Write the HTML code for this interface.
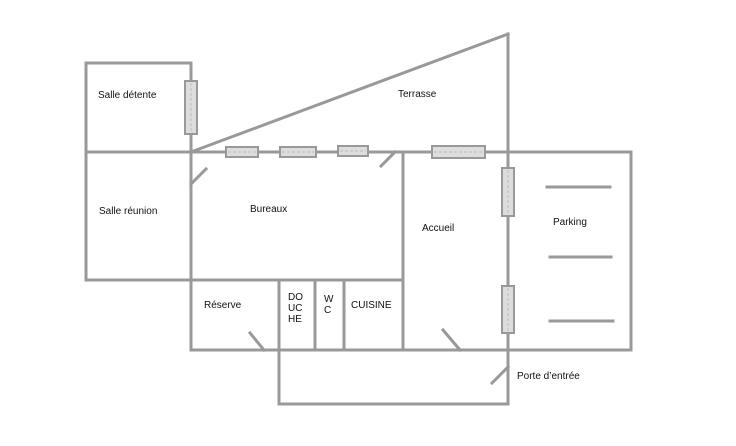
<!DOCTYPE html>
<html><head><meta charset="utf-8"><style>
html,body{margin:0;padding:0;background:#fff;}
svg{display:block;}
text{font-family:"Liberation Sans",sans-serif;font-size:10px;fill:#111;}
</style></head><body>
<svg width="736" height="446" viewBox="0 0 736 446" xmlns="http://www.w3.org/2000/svg">
<g stroke="#999" stroke-width="3" fill="none" stroke-linecap="square">
<rect x="86" y="63" width="105" height="217"/>
<line x1="86" y1="152" x2="631" y2="152"/>
<line x1="86" y1="280" x2="403" y2="280"/>
<line x1="191" y1="63" x2="191" y2="350"/>
<line x1="403" y1="152" x2="403" y2="350"/>
<line x1="191" y1="152" x2="508" y2="34"/>
<line x1="508" y1="34" x2="508" y2="404"/>
<line x1="631" y1="152" x2="631" y2="350"/>
<line x1="191" y1="350" x2="631" y2="350"/>
<line x1="279" y1="280" x2="279" y2="404"/>
<line x1="315" y1="280" x2="315" y2="350"/>
<line x1="344" y1="280" x2="344" y2="350"/>
<line x1="279" y1="404" x2="508" y2="404"/>
<line x1="191" y1="184" x2="206" y2="169"/>
<line x1="381" y1="166" x2="395" y2="152"/>
<line x1="250" y1="333" x2="264" y2="350"/>
<line x1="443" y1="330" x2="460" y2="350"/>
<line x1="492" y1="383" x2="508" y2="367"/>
<line x1="547" y1="187" x2="610" y2="187"/>
<line x1="550" y1="257" x2="611" y2="257"/>
<line x1="550" y1="321" x2="613" y2="321"/>
</g>
<g stroke="#999" stroke-width="2" fill="#ddd">
<rect x="185" y="81" width="12" height="53"/>
<rect x="226" y="147" width="32" height="10"/>
<rect x="280" y="147" width="36" height="10"/>
<rect x="338" y="146" width="30" height="10"/>
<rect x="432" y="146" width="53" height="12"/>
<rect x="502" y="168" width="12" height="48"/>
<rect x="502" y="286" width="12" height="47"/>
</g>
<g stroke="#bbb" stroke-width="1" stroke-dasharray="3,2">
<line x1="191" y1="83" x2="191" y2="132"/>
<line x1="228" y1="152" x2="256" y2="152"/>
<line x1="282" y1="152" x2="314" y2="152"/>
<line x1="340" y1="151" x2="366" y2="151"/>
<line x1="434" y1="152" x2="483" y2="152"/>
<line x1="508" y1="170" x2="508" y2="214"/>
<line x1="508" y1="288" x2="508" y2="331"/>
</g>
<text x="98" y="98">Salle détente</text>
<text x="398" y="97">Terrasse</text>
<text x="99" y="214">Salle réunion</text>
<text x="250" y="212">Bureaux</text>
<text x="422" y="231">Accueil</text>
<text x="553" y="225">Parking</text>
<text x="204" y="308">Réserve</text>
<text x="288" y="300">DO</text>
<text x="288" y="311">UC</text>
<text x="288" y="322">HE</text>
<text x="324" y="302">W</text>
<text x="324" y="313">C</text>
<text x="351" y="308">CUISINE</text>
<text x="517" y="379">Porte d’entrée</text>
</svg>
</body></html>
